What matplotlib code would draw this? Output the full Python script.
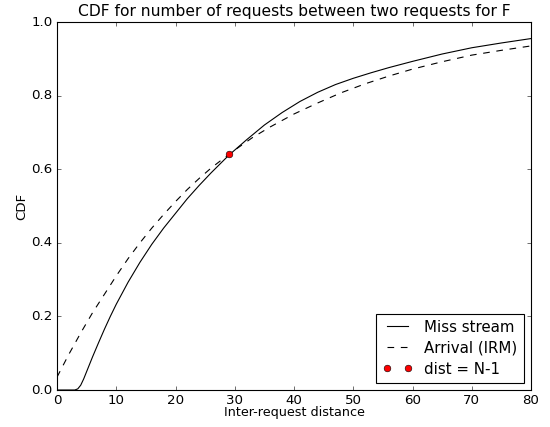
import matplotlib
matplotlib.use('Agg')
from matplotlib import pyplot as plt

# inter-request distance vs CDF
miss_x = [0, 1, 2, 3, 3.5, 4, 4.5, 5, 6, 7, 8, 9, 10, 12, 14, 16, 18, 20, 22, 24, 26, 28, 29,
          32, 35, 38, 41, 44, 47, 50, 53, 56, 60, 65, 70, 75, 80]
miss_cdf = [0.0, 0.0, 0.0, 0.0, 0.003, 0.013, 0.03, 0.05, 0.09, 0.128, 0.165, 0.2,
            0.233, 0.293, 0.347, 0.396, 0.44, 0.48, 0.52, 0.556, 0.59, 0.622, 0.638,
            0.68, 0.72, 0.754, 0.784, 0.809, 0.83, 0.847, 0.862, 0.876, 0.893,
            0.913, 0.93, 0.943, 0.955]

irm_x = [0, 2, 4, 6, 8, 10, 12, 14, 16, 18, 20, 22, 24, 26, 28, 30, 33, 36, 40,
         44, 48, 52, 56, 60, 65, 70, 75, 80]
irm_cdf = [0.035, 0.097, 0.155, 0.21, 0.26, 0.31, 0.357, 0.40, 0.44, 0.477, 0.512,
           0.545, 0.575, 0.603, 0.628, 0.652, 0.686, 0.715, 0.75, 0.78, 0.808,
           0.832, 0.853, 0.872, 0.892, 0.91, 0.923, 0.935]

dist_x = [29]
dist_cdf = [0.64]

plt.style.use('classic')
fig = plt.figure(figsize=(550/80., 427/80.), dpi=80, facecolor='white')
ax = fig.add_axes([57/550., 37/427., 474/550., 368/427.])

ax.plot(miss_x, miss_cdf, 'k-', label='Miss stream')
ax.plot(irm_x, irm_cdf, 'k--', label='Arrival (IRM)')
ax.plot(dist_x, dist_cdf, 'o', color='red', markeredgecolor='black', label='dist = N-1')

ax.set_xlim(0, 80)
ax.set_ylim(0, 1.0)
ax.set_title('CDF for number of requests between two requests for F', fontsize=14)
ax.set_xlabel('Inter-request distance', fontsize=11.5, labelpad=-1)
ax.set_ylabel('CDF', fontsize=12, labelpad=3)
ax.tick_params(labelsize=12)
ax.legend(loc='lower right', numpoints=2, fontsize=13.5, labelspacing=0.4)

fig.savefig('out.png', dpi=80, facecolor='white')
